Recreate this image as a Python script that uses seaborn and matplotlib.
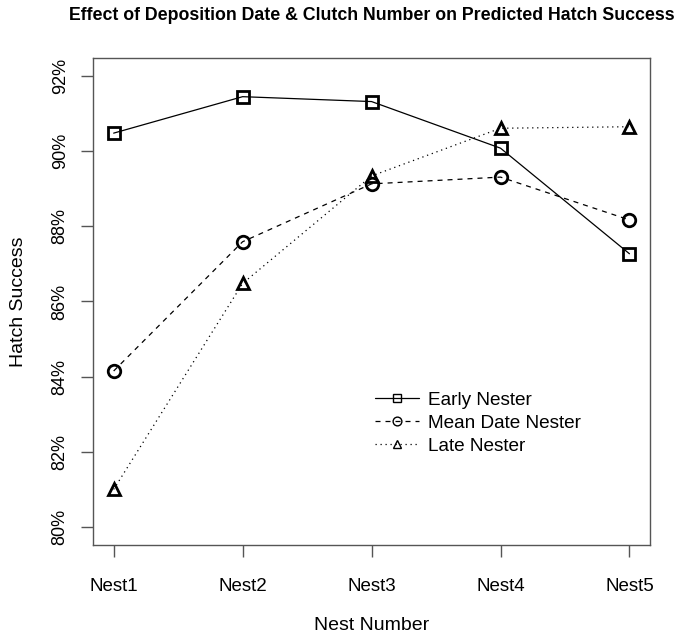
import matplotlib
matplotlib.use("Agg")
import matplotlib.pyplot as plt
import seaborn as sns
import pandas as pd
from matplotlib.ticker import FuncFormatter

nests = ["Nest1", "Nest2", "Nest3", "Nest4", "Nest5"]
early = [90.48, 91.45, 91.32, 90.08, 87.27]
mean_date = [84.15, 87.59, 89.13, 89.31, 88.17]
late = [81.00, 86.48, 89.34, 90.61, 90.65]
y_ticks = [80, 82, 84, 86, 88, 90, 92]

sns.set_theme(style="white")
plt.rcParams["font.family"] = ["Liberation Sans", "DejaVu Sans"]
plt.rcParams["text.color"] = "black"
plt.rcParams["axes.labelcolor"] = "black"
plt.rcParams["xtick.color"] = "black"
plt.rcParams["ytick.color"] = "black"

fig = plt.figure(figsize=(6.8, 6.37), dpi=100)
ax = fig.add_axes([0.1368, 0.1444, 0.8192, 0.7646])

series = [
    ("Early Nester", early, "-", "s"),
    ("Mean Date Nester", mean_date, (0, (4, 4)), "o"),
    ("Late Nester", late, (0, (1, 3)), "^"),
]
for name, vals, ls, mk in series:
    df = pd.DataFrame({"nest": nests, "value": vals})
    sns.lineplot(data=df, x="nest", y="value", ax=ax, color="black",
                 linewidth=0.9, linestyle=ls, marker=mk, markersize=9,
                 markerfacecolor="none", markeredgecolor="black",
                 markeredgewidth=2, label=name)

ax.set_xlim(-0.16, 4.16)
ax.set_ylim(79.52, 92.48)
ax.set_yticks(y_ticks)
ax.yaxis.set_major_formatter(FuncFormatter(lambda v, p: f"{v:.0f}%"))
for lab in ax.get_yticklabels():
    lab.set_rotation(90)
    lab.set_va("center")

ax.tick_params(axis="both", direction="out", length=8.5, width=1, color="#555555",
               bottom=True, left=True)
ax.tick_params(axis="x", pad=15, labelsize=13.5)
ax.tick_params(axis="y", pad=9, labelsize=13)
for s in ax.spines.values():
    s.set_color("#555555")
    s.set_linewidth(1)

ax.set_xlabel("Nest Number", fontsize=14, labelpad=16)
ax.set_ylabel("Hatch Success", fontsize=14, labelpad=18)
ax.set_title("Effect of Deposition Date & Clutch Number on Predicted Hatch Success",
             fontsize=12.8, fontweight="bold", pad=27)

leg = ax.legend(loc="upper left", bbox_to_anchor=(0.475, 0.35), frameon=False,
                fontsize=13.7, handlelength=2.3, handletextpad=0.5,
                labelspacing=0.3, markerscale=0.7)
for h in leg.legend_handles:
    h.set_markeredgewidth(1)

fig.savefig("out.png", dpi=100)
